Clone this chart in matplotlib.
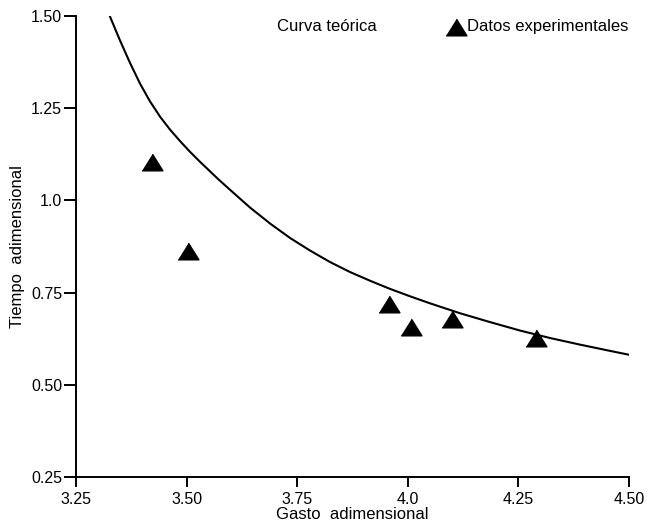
import matplotlib
matplotlib.use("Agg")
import matplotlib.pyplot as plt

plt.rcParams['font.family'] = ['Liberation Sans', 'DejaVu Sans']

# Theoretical curve
curve_x = [3.327, 3.349, 3.372, 3.395, 3.417, 3.440, 3.4625, 3.485, 3.5075,
           3.530, 3.572, 3.598, 3.643, 3.689, 3.734, 3.779, 3.824, 3.869,
           3.915, 3.960, 4.005, 4.050, 4.118, 4.186, 4.254, 4.321, 4.389,
           4.457, 4.502]
curve_y = [1.498, 1.435, 1.373, 1.316, 1.269, 1.227, 1.192, 1.161, 1.132,
           1.105, 1.057, 1.029, 0.981, 0.937, 0.898, 0.864, 0.833, 0.806,
           0.782, 0.760, 0.740, 0.721, 0.694, 0.670, 0.647, 0.627, 0.609,
           0.592, 0.581]

# Experimental data
exp_x = [3.422, 3.503, 3.957, 4.007, 4.100, 4.290]
exp_y = [1.104, 0.863, 0.719, 0.657, 0.678, 0.627]

xticks = [3.25, 3.50, 3.75, 4.0, 4.25, 4.50]
xtick_labels = ["3.25", "3.50", "3.75", "4.0", "4.25", "4.50"]
yticks = [0.25, 0.50, 0.75, 1.0, 1.25, 1.50]
ytick_labels = ["0.25", "0.50", "0.75", "1.0", "1.25", "1.50"]

fig = plt.figure(figsize=(6.52, 5.25), dpi=100)
ax = fig.add_axes([76/652, 1-477/525, (629-76)/652, (477-16)/525])

tri = [(-1, -0.8), (1, -0.8), (0, 0.8)]
ax.plot(curve_x, curve_y, color='black', lw=1.5, solid_joinstyle='round')
ax.plot(exp_x, exp_y, linestyle='none', marker=tri, markersize=15,
        color='black')

ax.set_xlim(3.25, 4.50)
ax.set_ylim(0.25, 1.50)
ax.set_xticks(xticks)
ax.set_xticklabels(xtick_labels)
ax.set_yticks(yticks)
ax.set_yticklabels(ytick_labels)
for s in ['top', 'right']:
    ax.spines[s].set_visible(False)
for s in ['left', 'bottom']:
    ax.spines[s].set_linewidth(1.4)
ax.tick_params(axis='y', direction='out', length=9, width=1.4, pad=1, labelsize=11.5)
ax.tick_params(axis='x', direction='out', length=7, width=1.4, pad=4, labelsize=11.5)

ax.set_xlabel("Gasto  adimensional", fontsize=12, labelpad=0)
ax.set_ylabel("Tiempo  adimensional", fontsize=12, labelpad=4)

# Legend as text items
ly = 1 - (26 - 16) / 461
ax.text((277 - 76) / 553, ly, "Curva teórica", transform=ax.transAxes,
        fontsize=12, va='center', ha='left')
ax.plot([(456 - 76) / 553], [1 - (27 - 16) / 461], transform=ax.transAxes,
        marker=tri, markersize=15, color='black', linestyle='none',
        clip_on=False)
ax.text((467 - 76) / 553, ly, "Datos experimentales",
        transform=ax.transAxes, fontsize=12, va='center', ha='left')

fig.savefig("out.png", dpi=100)
